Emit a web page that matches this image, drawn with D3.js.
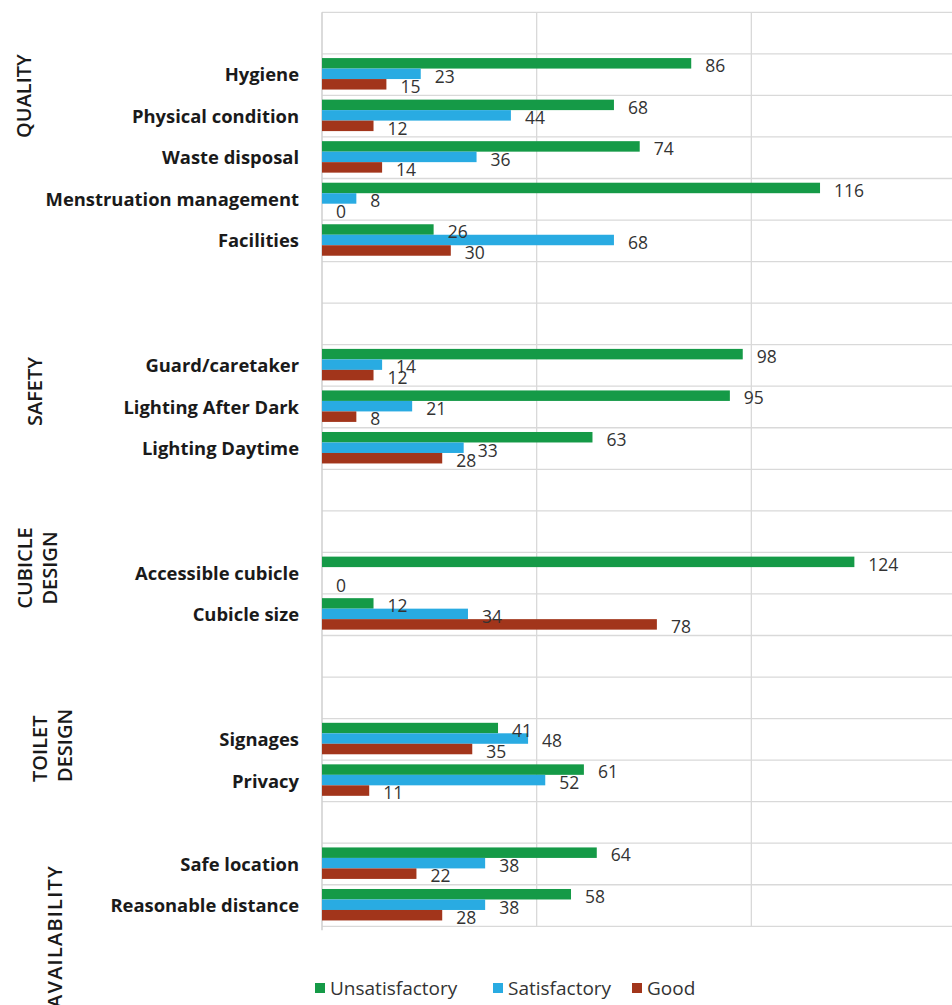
<!DOCTYPE html>
<html>
<head>
<meta charset="utf-8">
<script src="https://cdn.jsdelivr.net/npm/d3@7"></script>
<style>
  html, body { margin: 0; padding: 0; background: #ffffff; }
  svg { display: block; }
</style>
</head>
<body>
<svg id="chart" width="952" height="1005"></svg>
<script>
// Rows of the category axis, top to bottom; empty slots separate the groups
const rows = [
  "", "Hygiene", "Physical condition", "Waste disposal", "Menstruation management", "Facilities",
  "", "", "Guard/caretaker", "Lighting After Dark", "Lighting Daytime",
  "", "", "Accessible cubicle", "Cubicle size",
  "", "", "Signages", "Privacy",
  "", "Safe location", "Reasonable distance"
];

const seriesNames = ["Unsatisfactory", "Satisfactory", "Good"];
const seriesColors = ["#159a47", "#29abe2", "#a2351b"];

// Ratings per item (null = no response recorded)
const unsatisfactory = {
  "Hygiene": 86, "Physical condition": 68, "Waste disposal": 74, "Menstruation management": 116,
  "Facilities": 26, "Guard/caretaker": 98, "Lighting After Dark": 95, "Lighting Daytime": 63,
  "Accessible cubicle": 124, "Cubicle size": 12, "Signages": 41, "Privacy": 61,
  "Safe location": 64, "Reasonable distance": 58
};
const satisfactory = {
  "Hygiene": 23, "Physical condition": 44, "Waste disposal": 36, "Menstruation management": 8,
  "Facilities": 68, "Guard/caretaker": 14, "Lighting After Dark": 21, "Lighting Daytime": 33,
  "Accessible cubicle": null, "Cubicle size": 34, "Signages": 48, "Privacy": 52,
  "Safe location": 38, "Reasonable distance": 38
};
const good = {
  "Hygiene": 15, "Physical condition": 12, "Waste disposal": 14, "Menstruation management": 0,
  "Facilities": 30, "Guard/caretaker": 12, "Lighting After Dark": 8, "Lighting Daytime": 28,
  "Accessible cubicle": 0, "Cubicle size": 78, "Signages": 35, "Privacy": 11,
  "Safe location": 22, "Reasonable distance": 28
};
const seriesValues = [unsatisfactory, satisfactory, good];

const xTicks = [0, 50, 100, 150];

// Section titles drawn vertically at the left
const groupTitles = [
  { lines: ["QUALITY"], x: [24], y: 96, anchor: "middle", spacing: 0 },
  { lines: ["SAFETY"], x: [34.5], y: 391.5, anchor: "middle", spacing: 0 },
  { lines: ["CUBICLE", "DESIGN"], x: [24.5, 50], y: 568, anchor: "middle", spacing: 0 },
  { lines: ["TOILET", "DESIGN"], x: [39.5, 65], y: 782, anchor: "start", spacing: 0 },
  { lines: ["AVAILABILITY"], x: [54.5], y: 865, anchor: "end", spacing: 1.2 }
];

const svg = d3.select("#chart");
const FONT = "'Open Sans', 'Noto Sans', sans-serif";
const GRID = "#d9d9d9";

// unique keys so that empty slots each get their own band
const keys = rows.map((r, i) => r === "" ? "__gap" + i : r);
const labelOf = k => k.startsWith("__gap") ? "" : k;

const y = d3.scaleBand().domain(keys).range([12.3, 926.3]).paddingInner(0).paddingOuter(0);
const ySub = d3.scaleBand().domain(seriesNames).range([0, y.bandwidth()])
  .paddingInner(0).paddingOuter(0.48).align(0.42);
const x = d3.scaleLinear().domain([0, 150]).range([322, 966]);

// horizontal gridlines at the band boundaries
const bounds = keys.map(k => y(k)).concat([y.range()[1]]);
svg.append("g").selectAll("line").data(bounds).join("line")
  .attr("x1", x(0)).attr("x2", 952)
  .attr("y1", d => d).attr("y2", d => d)
  .attr("stroke", GRID).attr("stroke-width", 1.3);

// vertical gridlines
svg.append("g").selectAll("line").data(xTicks.filter(t => t > 0)).join("line")
  .attr("x1", d => x(d)).attr("x2", d => x(d))
  .attr("y1", y.range()[0]).attr("y2", y.range()[1])
  .attr("stroke", GRID).attr("stroke-width", 1.3);

// category axis
const yAxis = d3.axisLeft(y).tickSize(0).tickPadding(23).tickFormat(labelOf);
const ax = svg.append("g").attr("transform", `translate(${x(0)},0)`).call(yAxis);
ax.select(".domain").attr("stroke", "#cfcfcf").attr("stroke-width", 1.5)
  .attr("d", `M0,${y.range()[0]}V${y.range()[1] + 4}`);
ax.selectAll("text")
  .attr("font-family", FONT).attr("font-weight", 700).attr("font-size", 18.4)
  .attr("fill", "#1a1a1a").attr("dy", "0.36em");

// bars and value labels
const items = rows.filter(r => r !== "");
const barData = [];
items.forEach(item => {
  seriesNames.forEach((s, si) => {
    const v = seriesValues[si][item];
    if (v !== null && v !== undefined) barData.push({ item, series: s, si, value: v });
  });
});

const barsG = svg.append("g");
barsG.selectAll("rect").data(barData).join("rect")
  .attr("x", x(0))
  .attr("y", d => y(d.item) + ySub(d.series))
  .attr("width", d => x(d.value) - x(0))
  .attr("height", ySub.bandwidth())
  .attr("fill", d => seriesColors[d.si]);

svg.append("g").selectAll("text").data(barData).join("text")
  .attr("x", d => x(d.value) + 14)
  .attr("y", d => y(d.item) + ySub(d.series) + ySub.bandwidth() / 2 + 2.5)
  .attr("dy", "0.36em")
  .attr("font-family", FONT).attr("font-size", 17.5).attr("fill", "#333333")
  .text(d => d.value);

// section titles
groupTitles.forEach(g => {
  g.lines.forEach((line, i) => {
    svg.append("text")
      .attr("transform", `translate(${g.x[i]},${g.y}) rotate(-90)`)
      .attr("text-anchor", g.anchor)
      .attr("dy", "0.36em")
      .attr("letter-spacing", g.spacing)
      .attr("font-family", FONT).attr("font-size", 20).attr("font-weight", 600)
      .attr("fill", "#1a1a1a")
      .text(line);
  });
});

// legend
const legendX = [315, 493, 632];
const legend = svg.append("g");
seriesNames.forEach((s, i) => {
  legend.append("rect")
    .attr("x", legendX[i]).attr("y", 983).attr("width", 10).attr("height", 10)
    .attr("fill", seriesColors[i]);
  legend.append("text")
    .attr("x", legendX[i] + 15).attr("y", 995)
    .attr("font-family", FONT).attr("font-size", 19).attr("fill", "#333333")
    .text(s);
});
</script>
</body>
</html>
